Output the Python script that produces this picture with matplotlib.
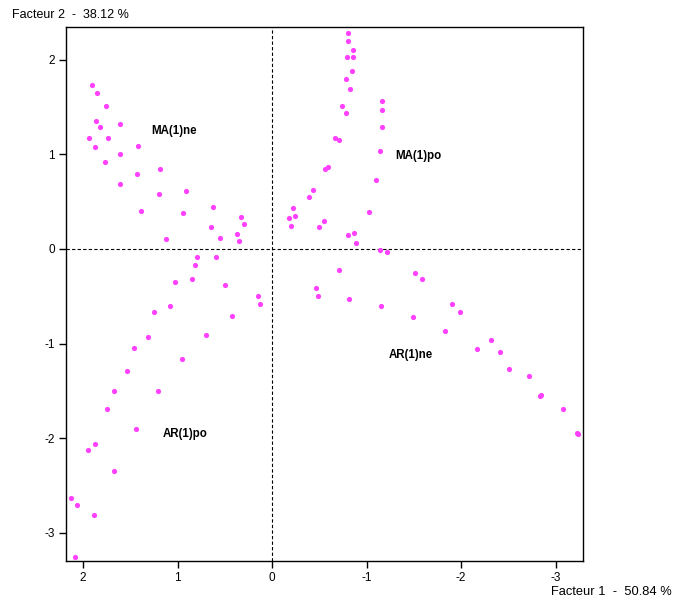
import matplotlib
matplotlib.use('Agg')
import matplotlib.pyplot as plt
from matplotlib.ticker import FuncFormatter

plt.rcParams['font.family'] = ['Liberation Sans', 'DejaVu Sans']

# nuage de points (Facteur 1, Facteur 2)
f1 = [1.906, 1.853, 1.758, 1.864, 1.821, 1.610, 1.938, 1.733, 1.874, 1.423,
      1.610, 1.768, 1.190, 1.430, 1.610, 0.915, 1.198, 0.620, 1.391, 0.947,
      0.324, 0.302, 0.651, 0.366, 1.127, 0.556, 0.345,
      -0.803, -0.803, -0.860, -0.793, -0.860, -0.846, -0.782, -0.825, -1.163,
      -1.163, -0.740, -0.782, -1.163, -0.666, -0.708, -1.142, -0.592, -0.560,
      -1.099, -0.433, -0.391, -1.025, -0.222, -0.247, -0.180, -0.550, -0.201,
      -0.497, -0.803, -0.867, -0.888, -1.146, -1.216,
      -0.708, -1.512, -1.586, -0.469, -0.490, -0.814, -1.152, -1.900, -1.984,
      -1.490, -1.829, -2.312, -2.164, -2.407, -2.502, -2.714, -2.844, -2.837,
      -3.080, -3.228, -3.239,
      0.799, 0.598, 0.820, 1.032, 0.852, 0.493, 0.154, 0.133, 1.085, 1.251,
      0.429, 1.317, 0.704, 1.462, 0.958, 1.539, 1.677, 1.211, 1.751, 1.444,
      1.874, 1.948, 1.677, 2.128, 2.064, 1.888, 2.086]
f2 = [1.730, 1.646, 1.508, 1.353, 1.286, 1.321, 1.173, 1.173, 1.078, 1.089,
      1.004, 0.920, 0.846, 0.793, 0.687, 0.613, 0.585, 0.447, 0.402, 0.384,
      0.342, 0.268, 0.236, 0.162, 0.106, 0.120, 0.088,
      2.287, 2.202, 2.107, 2.033, 2.033, 1.885, 1.800, 1.688, 1.561,
      1.466, 1.508, 1.434, 1.286, 1.173, 1.152, 1.032, 0.867, 0.846,
      0.729, 0.624, 0.550, 0.391, 0.433, 0.349, 0.328, 0.296, 0.243,
      0.233, 0.151, 0.172, 0.067, -0.011, -0.032,
      -0.219, -0.250, -0.314, -0.409, -0.493, -0.525, -0.599, -0.578, -0.663,
      -0.715, -0.863, -0.958, -1.053, -1.085, -1.265, -1.339, -1.540, -1.551,
      -1.695, -1.942, -1.956,
      -0.081, -0.081, -0.166, -0.346, -0.314, -0.377, -0.493, -0.578, -0.599, -0.663,
      -0.705, -0.927, -0.906, -1.043, -1.166, -1.293, -1.505, -1.505, -1.695, -1.906,
      -2.065, -2.128, -2.347, -2.632, -2.706, -2.812, -3.253]

group_labels = ['MA(1)ne', 'MA(1)po', 'AR(1)ne', 'AR(1)po']
label_f1 = [1.275, -1.307, -1.237, 1.155]
label_f2 = [1.25, 0.983, -1.124, -1.959]

x_ticks = [2, 1, 0, -1, -2, -3]
y_ticks = [2, 1, 0, -1, -2, -3]

fig = plt.figure(figsize=(6.76, 6.02), dpi=100)
ax = fig.add_axes([0.0976, 0.0681, 0.7643, 0.887])

ax.scatter(f1, f2, s=14, color='#ff40ff', marker='o', linewidths=0, zorder=3)

ax.axhline(0, color='black', linestyle=(0, (3, 2)), linewidth=0.8)
ax.axvline(0, color='black', linestyle=(0, (3, 2)), linewidth=0.8)

for lab, x, y in zip(group_labels, label_f1, label_f2):
    ax.text(x, y, lab, ha='left', va='center', fontsize=8.3, fontweight='bold')

ax.set_xlim(2.18, -3.285)
ax.set_ylim(-3.30, 2.347)
ax.set_xticks(x_ticks)
ax.set_yticks(y_ticks)
fmt = FuncFormatter(lambda v, p: f'{v:g}'.replace('\u2212', '-'))
ax.xaxis.set_major_formatter(fmt)
ax.yaxis.set_major_formatter(fmt)
ax.tick_params(direction='out', length=5, width=1, labelsize=8.5, pad=3)

for sp in ax.spines.values():
    sp.set_linewidth(1)

fig.text(12 / 676, 1 - 15 / 602, 'Facteur 2  -  38.12 %', ha='left', va='center', fontsize=9)
fig.text(551 / 676, 1 - 592 / 602, 'Facteur 1  -  50.84 %', ha='left', va='center', fontsize=9.3)

fig.savefig('out.png', dpi=100)
